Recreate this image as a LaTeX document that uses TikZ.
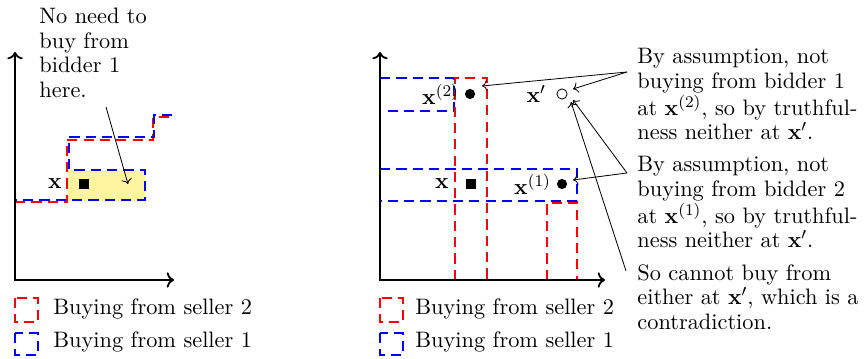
\documentclass[tikz,border=0pt]{standalone}
\usepackage{amsmath,amssymb}
\usepackage{xcolor}
\usepackage{tikz}
\usetikzlibrary{arrows.meta,positioning}

\definecolor{hilite}{RGB}{255,245,160}

\begin{document}
\begin{tikzpicture}[
  x=0.49pt,y=-0.49pt,
  every node/.append style={font=\fontsize{10.95}{12}\selectfont},
  axis/.style={<->,line width=0.9pt},
  sellertwo/.style={red,line width=0.9pt,dash pattern=on 5pt off 3pt},
  sellerone/.style={blue,line width=0.9pt,dash pattern=on 5pt off 3pt},
  sq/.style={fill=black,minimum size=5pt,inner sep=0pt},
  dot/.style={circle,fill=black,minimum size=5pt,inner sep=0pt},
  odot/.style={circle,draw=black,thin,minimum size=5pt,inner sep=0pt},
  lbl/.style={inner sep=0pt},
  note/.style={inner sep=0pt,align=left,anchor=north west},
  callout/.style={->,thin}
]
\useasboundingbox (0,0) rectangle (864,359);

% left panel
\fill[hilite] (68,170) rectangle (145,201);
\draw[sellertwo] (15,202) -- (67,202) -- (67,140) -- (153,140) -- (153,117) -- (173,117);
\draw[sellerone,dash phase=4pt] (15,200) -- (145,200) -- (145,170) -- (69,170) -- (69,137) -- (154,137) -- (154,115) -- (173,115);
\draw[axis] (15,52) -- (15,280) -- (174,280);

\node[sq] (sqL) at (84,184) {};
\node[lbl,left=8pt of sqL] (sqLlbl) {$\mathbf{x}$};

\node[note] (noneed) at (39,8) {No need to\\buy from\\bidder 1\\here.};
\coordinate (noneedS) at (106,107);
\coordinate (noneedE) at (128,184);
\draw[callout] (noneedS) -- (noneedE);

% left legend
\draw[sellertwo] (15,298) rectangle (38,322);
\node[lbl,anchor=base west] (legLtwo) at (53,315) {Buying from seller 2};
\draw[sellerone] (15,333) rectangle (38,355);
\node[lbl,anchor=base west] (legLone) at (53,348) {Buying from seller 1};

% right panel
\draw[sellerone] (380,78) -- (454,78) -- (454,111) -- (380,111);
\draw[sellerone] (380,169) -- (577,169) -- (577,201) -- (380,201);
\draw[sellertwo] (455,280) -- (455,78) -- (487,78) -- (487,280);
\draw[sellertwo] (547,280) -- (547,203) -- (577,203) -- (577,280);
\draw[axis] (380,52) -- (380,280) -- (605,280);

\node[dot] (xtwo) at (470,94) {};
\node[lbl,left=2.5pt of xtwo] (xtwolbl) {$\mathbf{x}^{(2)}$};
\node[odot] (xprime) at (562,94) {};
\node[lbl,left=5pt of xprime] (xprimelbl) {$\mathbf{x}'$};
\node[sq] (sqR) at (471,184) {};
\node[lbl,left=8pt of sqR] (sqRlbl) {$\mathbf{x}$};
\node[dot] (xone) at (562,184) {};
\node[lbl,left=2.5pt of xone] (xonelbl) {$\mathbf{x}^{(1)}$};

% notes on the right
\node[note] (noteone) at (637,48) {By assumption, not\\buying from bidder 1\\at $\mathbf{x}^{(2)}$, so by truthful-\\ness neither at $\mathbf{x}'$.};
\node[note] (notetwo) at (637,156) {By assumption, not\\buying from bidder 2\\at $\mathbf{x}^{(1)}$, so by truthful-\\ness neither at $\mathbf{x}'$.};
\node[note] (notethree) at (637,264) {So cannot buy from\\either at $\mathbf{x}'$, which is a\\contradiction.};

\coordinate (cone) at (627,72);
\coordinate (ctwo) at (627,173);
\coordinate (cthree) at (626,271);
\draw[callout] (cone) -- ([shift={(12,-8)}]xtwo.center);
\draw[callout] (cone) -- ([shift={(11,-5)}]xprime.center);
\draw[callout] (ctwo) -- ([shift={(11,6)}]xprime.center);
\draw[callout] (ctwo) -- ([shift={(11,-4)}]xone.center);
\draw[callout] (cthree) -- ([shift={(9,8)}]xprime.center);

% right legend
\draw[sellertwo] (380,298) rectangle (403,322);
\node[lbl,anchor=base west] (legRtwo) at (415,315) {Buying from seller 2};
\draw[sellerone] (380,333) rectangle (403,355);
\node[lbl,anchor=base west] (legRone) at (415,348) {Buying from seller 1};
\end{tikzpicture}
\end{document}
